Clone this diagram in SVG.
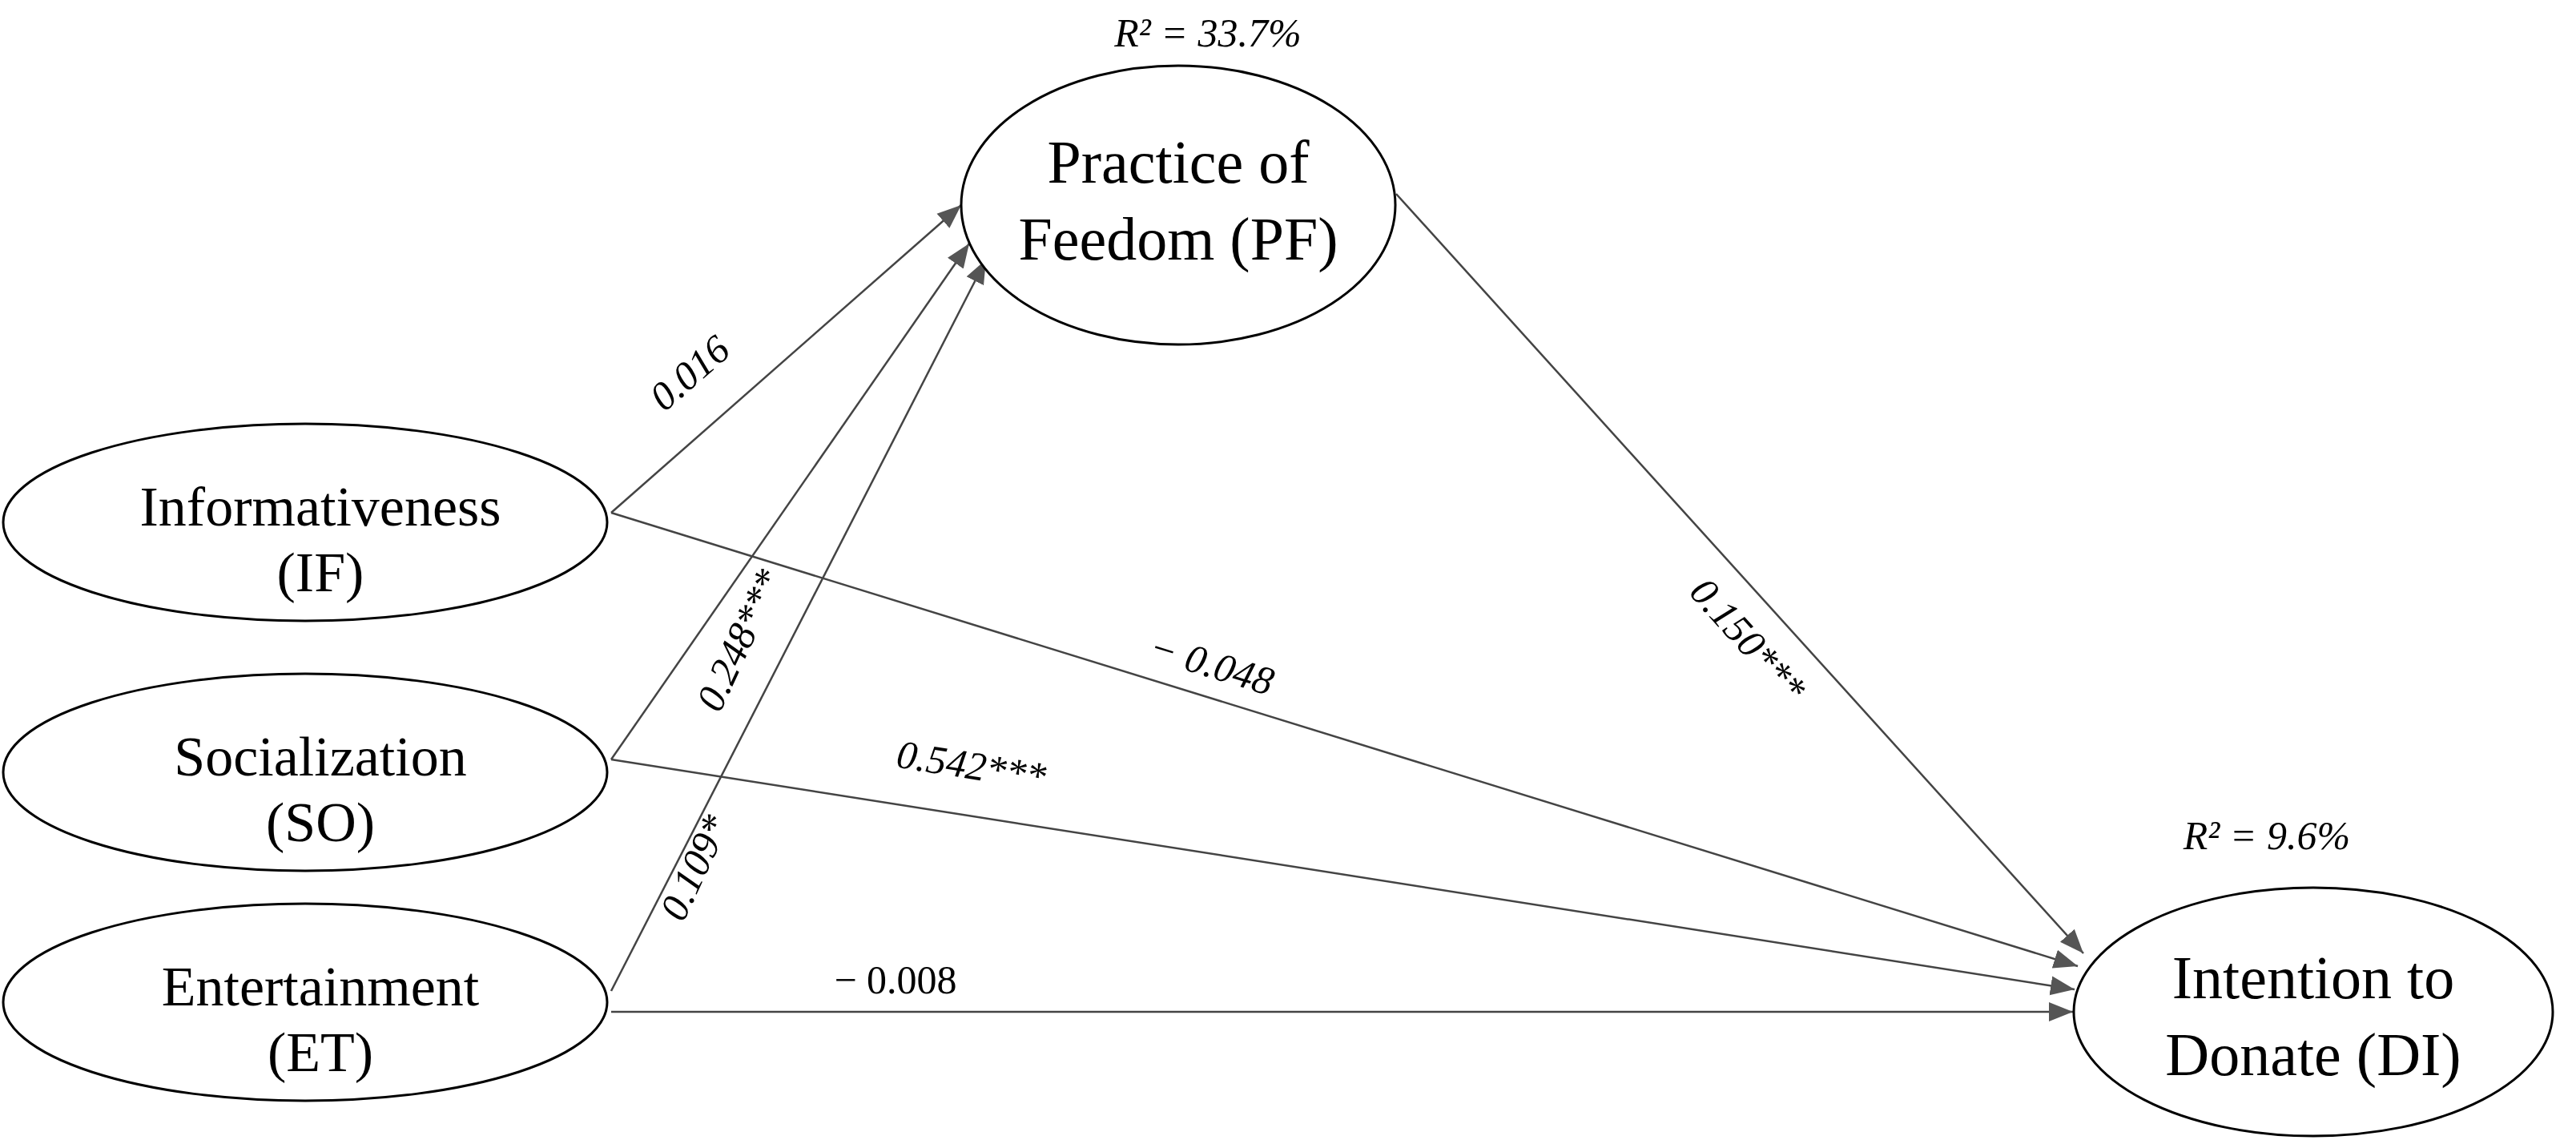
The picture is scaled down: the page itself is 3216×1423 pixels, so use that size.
<svg xmlns="http://www.w3.org/2000/svg" width="3216" height="1423" viewBox="0 0 3216 1423">
<style>
.n{fill:#fff;stroke:#000;stroke-width:3}
.t{font-family:"Liberation Serif",serif;fill:#000;text-anchor:middle}
.s{font-size:70px}
.b{font-size:76px}
.l{font-family:"Liberation Serif",serif;font-style:italic;font-size:50px;text-anchor:middle}
.c{stroke:#444;stroke-width:2.5;fill:none;marker-end:url(#a)}
</style>
<defs><marker id="a" viewBox="0 0 10 10" refX="10" refY="5" markerWidth="30" markerHeight="30" markerUnits="userSpaceOnUse" orient="auto"><path d="M0,1L10,5L0,9z" fill="#555"/></marker></defs>
<g id="connectors">
<line class="c" x1="763" y1="640" x2="1200" y2="256"/>
<line class="c" x1="763" y1="948" x2="1210" y2="304"/>
<line class="c" x1="763" y1="1237" x2="1231" y2="324"/>
<line class="c" x1="1743" y1="242" x2="2601" y2="1190"/>
<line class="c" x1="763" y1="640" x2="2594" y2="1206"/>
<line class="c" x1="763" y1="948" x2="2590" y2="1235"/>
<line class="c" x1="763" y1="1263" x2="2588" y2="1263"/>
<text class="l" transform="translate(872,478) rotate(-41)">0.016</text>
<text class="l" transform="translate(938,806) rotate(-65)">0.248***</text>
<text class="l" transform="translate(882,1090) rotate(-65)">0.109*</text>
<text class="l" transform="translate(1508,845) rotate(17)">− 0.048</text>
<text class="l" transform="translate(1210,972) rotate(9)">0.542***</text>
<text class="l" x="1118" y="1240" style="font-style:normal">− 0.008</text>
<text class="l" transform="translate(2170,810) rotate(48)">0.150***</text>
</g>
<g id="PF"><ellipse class="n" cx="1471" cy="256" rx="271" ry="174"/>
<text class="t b" x="1471" y="228">Practice of</text><text class="t b" x="1471" y="324">Feedom (PF)</text>
<text class="l" x="1508" y="58">R² = 33.7%</text></g>
<g id="IF"><ellipse class="n" cx="381" cy="652" rx="377" ry="123"/>
<text class="t s" x="400" y="656">Informativeness</text><text class="t s" x="400" y="738">(IF)</text></g>
<g id="SO"><ellipse class="n" cx="381" cy="964" rx="377" ry="123"/>
<text class="t s" x="400" y="968">Socialization</text><text class="t s" x="400" y="1050">(SO)</text></g>
<g id="ET"><ellipse class="n" cx="381" cy="1251" rx="377" ry="123"/>
<text class="t s" x="400" y="1255">Entertainment</text><text class="t s" x="400" y="1337">(ET)</text></g>
<g id="DI"><ellipse class="n" cx="2888" cy="1263" rx="299" ry="155"/>
<text class="t b" x="2888" y="1246">Intention to</text><text class="t b" x="2888" y="1342">Donate (DI)</text>
<text class="l" x="2830" y="1060">R² = 9.6%</text></g>
</svg>
